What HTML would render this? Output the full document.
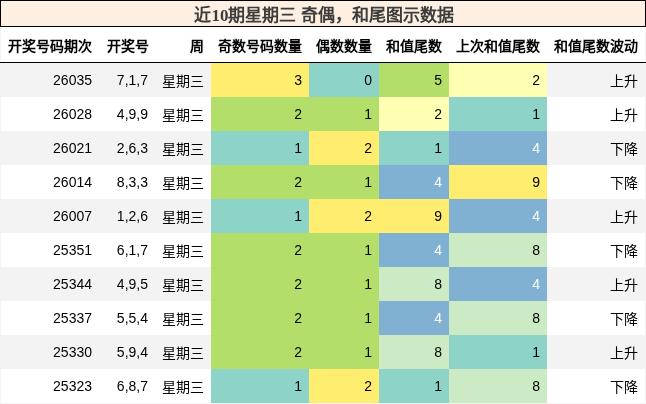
<!DOCTYPE html>
<html lang="zh-CN"><head><meta charset="utf-8"><style>
*{margin:0;padding:0;box-sizing:border-box}
html,body{width:646px;height:404px;overflow:hidden;background:#fff}
body{position:relative;font-family:"Liberation Sans",sans-serif;color:#000}
#w{position:absolute;left:0;top:0;width:646px;height:404px;will-change:transform;background:#fff}
.title{position:absolute;left:0;top:0;width:646px;height:27px;border:1px solid #000;background:#fdf0e2}
.tt{position:absolute;left:1px;top:2px;width:644px;height:25px;line-height:25px;text-align:center;
 font-family:"Liberation Serif",serif;font-weight:bold;font-size:17px;color:#3c3c3c;white-space:nowrap}
.hline{position:absolute;left:0;top:62px;width:646px;height:1px;background:#000}
.hb{position:absolute;top:28px;width:1px;height:33px;background:#f3f3f3}
.c{position:absolute;height:34px;line-height:34px;font-size:14px;text-align:right;white-space:nowrap}
.h{position:absolute;top:28px;height:36px;line-height:36px;font-size:14px;font-weight:bold;text-align:right;white-space:nowrap}
.k{position:relative;top:1px}
.gr{background:#f3f3f3}
.y{background:#ffed6f}.t{background:#8dd3c7}.g{background:#b3de69}.ly{background:#ffffb3}.b{background:#80b1d3;color:#fff}.lg{background:#ccebc5}
</style></head><body><div id="w">
<div class="title"><div class="tt">近10期星期三 奇偶，和尾图示数据</div></div>
<div class="hb" style="left:0"></div><div class="hb" style="left:645px"></div>

<div class="h" style="left:0px;width:100px;padding-right:8px">开奖号码期次</div>
<div class="h" style="left:100px;width:55px;padding-right:6.5px">开奖号</div>
<div class="h" style="left:155px;width:56px;padding-right:7px">周</div>
<div class="h" style="left:211px;width:98px;padding-right:7px">奇数号码数量</div>
<div class="h" style="left:309px;width:70px;padding-right:7px">偶数数量</div>
<div class="h" style="left:379px;width:70px;padding-right:7px">和值尾数</div>
<div class="h" style="left:449px;width:98px;padding-right:7px">上次和值尾数</div>
<div class="h" style="left:547px;width:99px;padding-right:8px">和值尾数波动</div>
<div class="hline"></div>
<div class="c gr" style="left:0;top:63px;width:646px"></div>
<div class="c " style="left:0px;top:63px;width:100px;padding-right:8px">26035</div>
<div class="c " style="left:100px;top:63px;width:55px;padding-right:7px">7,1,7</div>
<div class="c " style="left:155px;top:63px;width:56px;padding-right:7px"><span class="k">星期三</span></div>
<div class="c y" style="left:211px;top:63px;width:98px;padding-right:7px">3</div>
<div class="c t" style="left:309px;top:63px;width:70px;padding-right:7px">0</div>
<div class="c g" style="left:379px;top:63px;width:70px;padding-right:7px">5</div>
<div class="c ly" style="left:449px;top:63px;width:98px;padding-right:7px">2</div>
<div class="c " style="left:547px;top:63px;width:99px;padding-right:8px"><span class="k">上升</span></div>
<div class="c " style="left:0;top:97px;width:646px"></div>
<div class="c " style="left:0px;top:97px;width:100px;padding-right:8px">26028</div>
<div class="c " style="left:100px;top:97px;width:55px;padding-right:7px">4,9,9</div>
<div class="c " style="left:155px;top:97px;width:56px;padding-right:7px"><span class="k">星期三</span></div>
<div class="c g" style="left:211px;top:97px;width:98px;padding-right:7px">2</div>
<div class="c g" style="left:309px;top:97px;width:70px;padding-right:7px">1</div>
<div class="c ly" style="left:379px;top:97px;width:70px;padding-right:7px">2</div>
<div class="c t" style="left:449px;top:97px;width:98px;padding-right:7px">1</div>
<div class="c " style="left:547px;top:97px;width:99px;padding-right:8px"><span class="k">上升</span></div>
<div class="c gr" style="left:0;top:131px;width:646px"></div>
<div class="c " style="left:0px;top:131px;width:100px;padding-right:8px">26021</div>
<div class="c " style="left:100px;top:131px;width:55px;padding-right:7px">2,6,3</div>
<div class="c " style="left:155px;top:131px;width:56px;padding-right:7px"><span class="k">星期三</span></div>
<div class="c t" style="left:211px;top:131px;width:98px;padding-right:7px">1</div>
<div class="c y" style="left:309px;top:131px;width:70px;padding-right:7px">2</div>
<div class="c t" style="left:379px;top:131px;width:70px;padding-right:7px">1</div>
<div class="c b" style="left:449px;top:131px;width:98px;padding-right:7px">4</div>
<div class="c " style="left:547px;top:131px;width:99px;padding-right:8px"><span class="k">下降</span></div>
<div class="c " style="left:0;top:165px;width:646px"></div>
<div class="c " style="left:0px;top:165px;width:100px;padding-right:8px">26014</div>
<div class="c " style="left:100px;top:165px;width:55px;padding-right:7px">8,3,3</div>
<div class="c " style="left:155px;top:165px;width:56px;padding-right:7px"><span class="k">星期三</span></div>
<div class="c g" style="left:211px;top:165px;width:98px;padding-right:7px">2</div>
<div class="c g" style="left:309px;top:165px;width:70px;padding-right:7px">1</div>
<div class="c b" style="left:379px;top:165px;width:70px;padding-right:7px">4</div>
<div class="c y" style="left:449px;top:165px;width:98px;padding-right:7px">9</div>
<div class="c " style="left:547px;top:165px;width:99px;padding-right:8px"><span class="k">下降</span></div>
<div class="c gr" style="left:0;top:199px;width:646px"></div>
<div class="c " style="left:0px;top:199px;width:100px;padding-right:8px">26007</div>
<div class="c " style="left:100px;top:199px;width:55px;padding-right:7px">1,2,6</div>
<div class="c " style="left:155px;top:199px;width:56px;padding-right:7px"><span class="k">星期三</span></div>
<div class="c t" style="left:211px;top:199px;width:98px;padding-right:7px">1</div>
<div class="c y" style="left:309px;top:199px;width:70px;padding-right:7px">2</div>
<div class="c y" style="left:379px;top:199px;width:70px;padding-right:7px">9</div>
<div class="c b" style="left:449px;top:199px;width:98px;padding-right:7px">4</div>
<div class="c " style="left:547px;top:199px;width:99px;padding-right:8px"><span class="k">上升</span></div>
<div class="c " style="left:0;top:233px;width:646px"></div>
<div class="c " style="left:0px;top:233px;width:100px;padding-right:8px">25351</div>
<div class="c " style="left:100px;top:233px;width:55px;padding-right:7px">6,1,7</div>
<div class="c " style="left:155px;top:233px;width:56px;padding-right:7px"><span class="k">星期三</span></div>
<div class="c g" style="left:211px;top:233px;width:98px;padding-right:7px">2</div>
<div class="c g" style="left:309px;top:233px;width:70px;padding-right:7px">1</div>
<div class="c b" style="left:379px;top:233px;width:70px;padding-right:7px">4</div>
<div class="c lg" style="left:449px;top:233px;width:98px;padding-right:7px">8</div>
<div class="c " style="left:547px;top:233px;width:99px;padding-right:8px"><span class="k">下降</span></div>
<div class="c gr" style="left:0;top:267px;width:646px"></div>
<div class="c " style="left:0px;top:267px;width:100px;padding-right:8px">25344</div>
<div class="c " style="left:100px;top:267px;width:55px;padding-right:7px">4,9,5</div>
<div class="c " style="left:155px;top:267px;width:56px;padding-right:7px"><span class="k">星期三</span></div>
<div class="c g" style="left:211px;top:267px;width:98px;padding-right:7px">2</div>
<div class="c g" style="left:309px;top:267px;width:70px;padding-right:7px">1</div>
<div class="c lg" style="left:379px;top:267px;width:70px;padding-right:7px">8</div>
<div class="c b" style="left:449px;top:267px;width:98px;padding-right:7px">4</div>
<div class="c " style="left:547px;top:267px;width:99px;padding-right:8px"><span class="k">上升</span></div>
<div class="c " style="left:0;top:301px;width:646px"></div>
<div class="c " style="left:0px;top:301px;width:100px;padding-right:8px">25337</div>
<div class="c " style="left:100px;top:301px;width:55px;padding-right:7px">5,5,4</div>
<div class="c " style="left:155px;top:301px;width:56px;padding-right:7px"><span class="k">星期三</span></div>
<div class="c g" style="left:211px;top:301px;width:98px;padding-right:7px">2</div>
<div class="c g" style="left:309px;top:301px;width:70px;padding-right:7px">1</div>
<div class="c b" style="left:379px;top:301px;width:70px;padding-right:7px">4</div>
<div class="c lg" style="left:449px;top:301px;width:98px;padding-right:7px">8</div>
<div class="c " style="left:547px;top:301px;width:99px;padding-right:8px"><span class="k">下降</span></div>
<div class="c gr" style="left:0;top:335px;width:646px"></div>
<div class="c " style="left:0px;top:335px;width:100px;padding-right:8px">25330</div>
<div class="c " style="left:100px;top:335px;width:55px;padding-right:7px">5,9,4</div>
<div class="c " style="left:155px;top:335px;width:56px;padding-right:7px"><span class="k">星期三</span></div>
<div class="c g" style="left:211px;top:335px;width:98px;padding-right:7px">2</div>
<div class="c g" style="left:309px;top:335px;width:70px;padding-right:7px">1</div>
<div class="c lg" style="left:379px;top:335px;width:70px;padding-right:7px">8</div>
<div class="c t" style="left:449px;top:335px;width:98px;padding-right:7px">1</div>
<div class="c " style="left:547px;top:335px;width:99px;padding-right:8px"><span class="k">上升</span></div>
<div class="c " style="left:0;top:369px;width:646px"></div>
<div class="c " style="left:0px;top:369px;width:100px;padding-right:8px">25323</div>
<div class="c " style="left:100px;top:369px;width:55px;padding-right:7px">6,8,7</div>
<div class="c " style="left:155px;top:369px;width:56px;padding-right:7px"><span class="k">星期三</span></div>
<div class="c t" style="left:211px;top:369px;width:98px;padding-right:7px">1</div>
<div class="c y" style="left:309px;top:369px;width:70px;padding-right:7px">2</div>
<div class="c t" style="left:379px;top:369px;width:70px;padding-right:7px">1</div>
<div class="c lg" style="left:449px;top:369px;width:98px;padding-right:7px">8</div>
<div class="c " style="left:547px;top:369px;width:99px;padding-right:8px"><span class="k">下降</span></div>
<div class="c gr" style="left:0;top:403px;width:646px;height:1px"></div>
<div class="hb" style="left:0;top:63px;height:341px"></div><div class="hb" style="left:645px;top:63px;height:341px"></div>
</div></body></html>
